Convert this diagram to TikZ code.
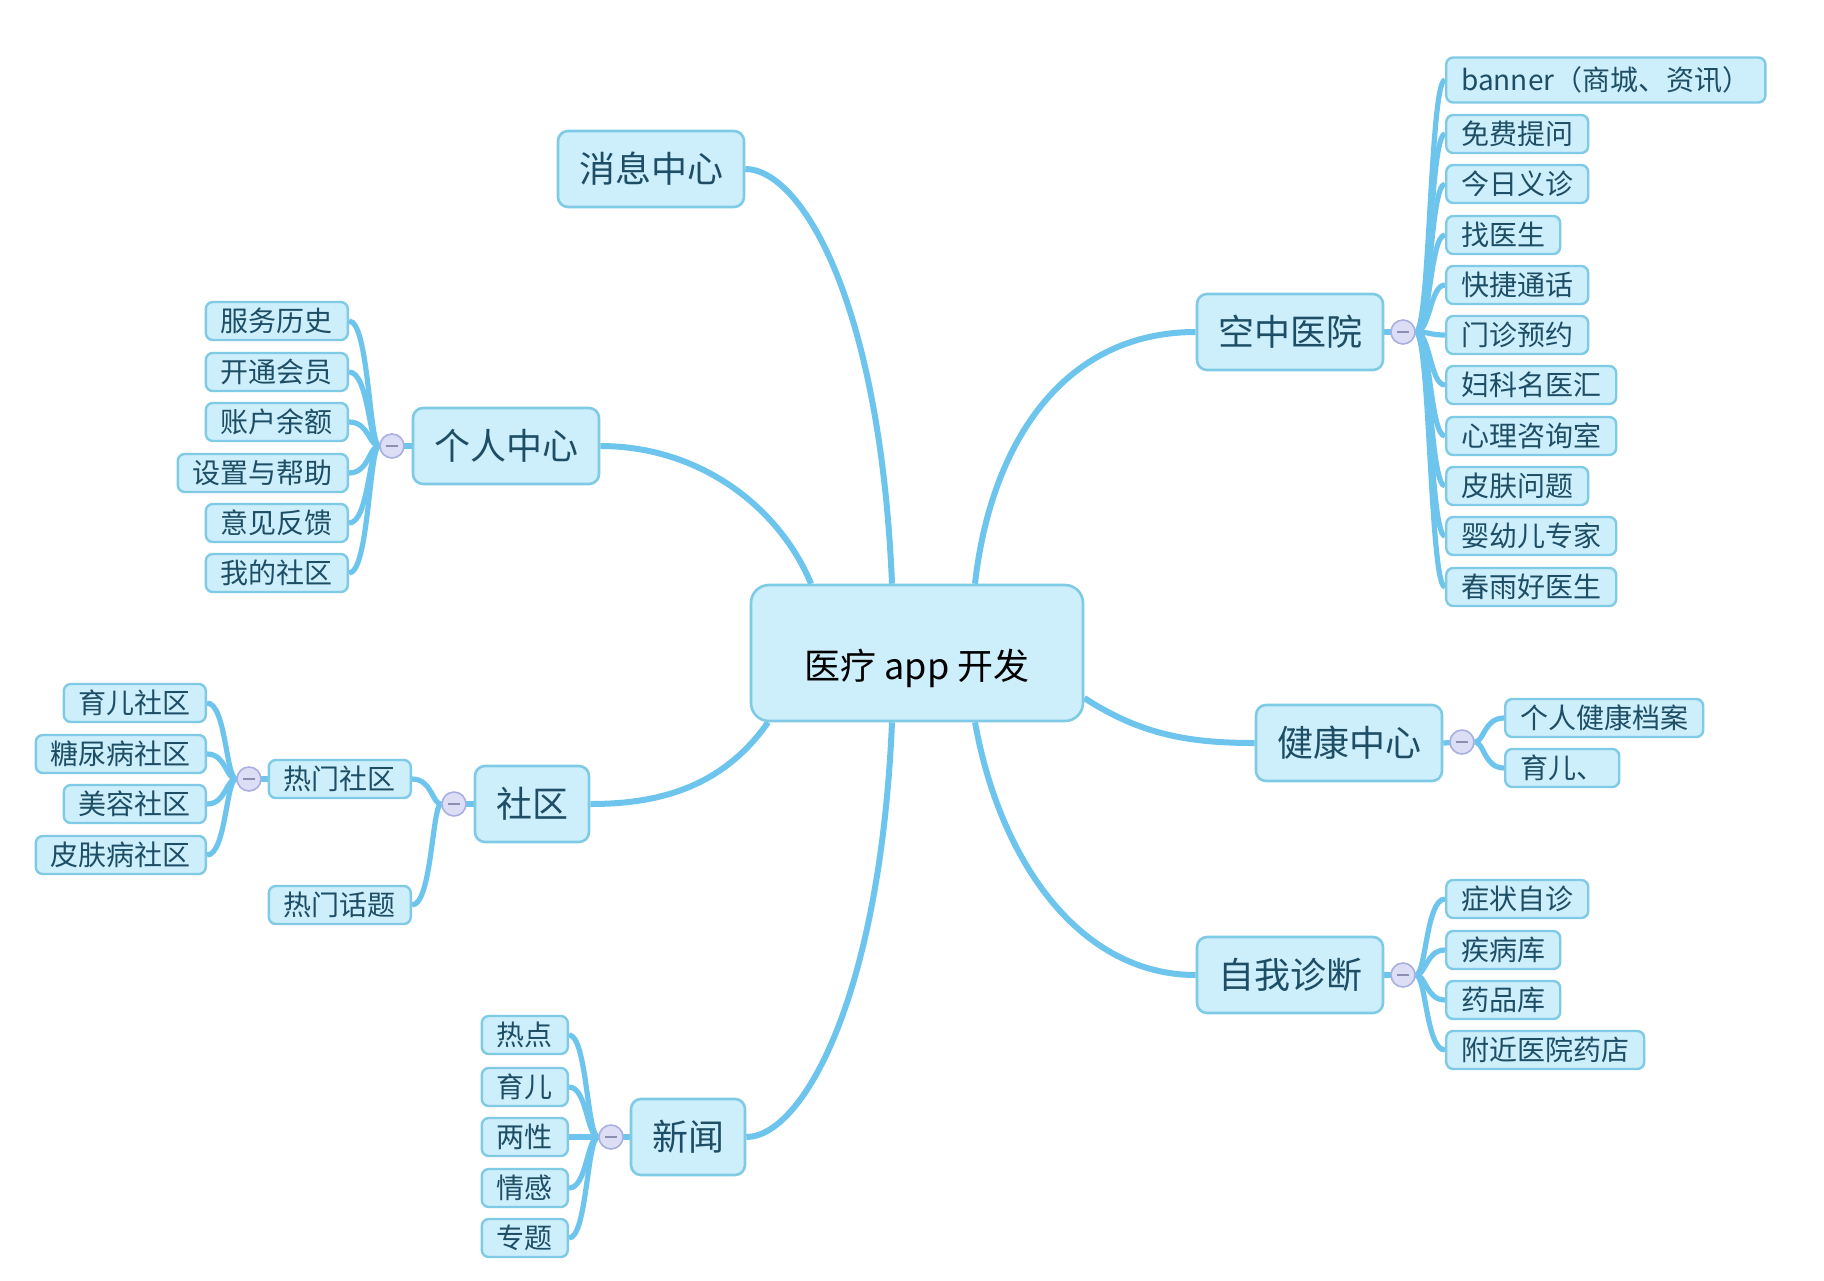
\documentclass[tikz,border=0pt]{standalone}
\usepackage{fontspec}
\newfontfamily\cjk{Noto Sans CJK SC}
\usetikzlibrary{calc}
\pgfdeclarelayer{back}
\pgfdeclarelayer{bg}
\pgfsetlayers{back,bg,main}
\definecolor{nodefill}{HTML}{CDEEFB}
\definecolor{nodeborder}{HTML}{7FCBE5}
\definecolor{nodetext}{HTML}{1D4E66}
\definecolor{linkcol}{HTML}{6DC5EE}
\definecolor{foldfill}{HTML}{DCDEF5}
\definecolor{foldborder}{HTML}{A9B0E0}
\definecolor{minuscol}{HTML}{8C90B0}
\tikzset{
  rootbox/.style={draw=nodeborder, fill=nodefill, line width=1.3pt, rounded corners=9pt,
    minimum width=166pt, minimum height=68pt, font=\cjk\fontsize{18}{20}\selectfont, text=black,
    text height=28pt, text depth=2pt},
  mainbox/.style={draw=nodeborder, fill=nodefill, line width=1.3pt, rounded corners=5pt,
    inner xsep=10.5pt, minimum height=38pt, font=\cjk\fontsize{18}{20}\selectfont, text=nodetext},
  leafbox/.style={draw=nodeborder, fill=nodefill, line width=1.2pt, rounded corners=3.5pt,
    inner xsep=7.5pt, inner ysep=0pt, minimum height=19pt, font=\cjk\fontsize{14}{16}\selectfont, text=nodetext},
  foldmark/.style={circle, draw=foldborder, fill=foldfill, line width=0.8pt, minimum size=12pt, inner sep=0pt,
    path picture={\draw[minuscol, line width=1pt] ([xshift=-3pt]path picture bounding box.center) -- ([xshift=3pt]path picture bounding box.center);}},
  mainlink/.style={draw=linkcol, line width=3pt},
  sublink/.style={draw=linkcol, line width=2.6pt},
}
\begin{document}
\begin{tikzpicture}[x=0.5pt, y=-0.5pt]
\begin{pgfonlayer}{back}
\useasboundingbox[fill=white] (0,0) rectangle (1824,1280);
\end{pgfonlayer}

% root
\node[rootbox] (root) at (917,653) {医疗 app 开发};

% main topics
\node[mainbox] (msg) at (651,169) {消息中心};
\node[mainbox] (kz)  at (1290,332) {空中医院};
\node[mainbox] (gr)  at (506,446) {个人中心};
\node[mainbox] (jk)  at (1349,743) {健康中心};
\node[mainbox] (sq)  at (532,804) {社区};
\node[mainbox] (zw)  at (1290,975) {自我诊断};
\node[mainbox] (xw)  at (688,1137) {新闻};

% fold marks
\node[foldmark] (fkz) at (1403,332) {};
\node[foldmark] (fgr) at (392,446) {};
\node[foldmark] (fjk) at (1462,742) {};
\node[foldmark] (fsq) at (454,804) {};
\node[foldmark] (frm) at (249,779) {};
\node[foldmark] (fzw) at (1403,975) {};
\node[foldmark] (fxw) at (611,1137) {};

% bundle guide coordinates (where the branch lines run vertically)
\coordinate (vkz) at (1430,332);
\coordinate (vgr) at (369,446);
\coordinate (vjk) at (1484,742);
\coordinate (vsq) at (432,804);
\coordinate (vrm) at (226,779);
\coordinate (vzw) at (1426,975);
\coordinate (vxw) at (587,1137);

% 空中医院 leaves
\node[leafbox, anchor=west, minimum height=22.5pt] (k1) at (1445,80) {banner（商城、资讯）};
\node[leafbox, anchor=west] (k2)  at (1445,134) {免费提问};
\node[leafbox, anchor=west] (k3)  at (1445,184) {今日义诊};
\node[leafbox, anchor=west] (k4)  at (1445,235) {找医生};
\node[leafbox, anchor=west] (k5)  at (1445,285) {快捷通话};
\node[leafbox, anchor=west] (k6)  at (1445,335) {门诊预约};
\node[leafbox, anchor=west] (k7)  at (1445,385) {妇科名医汇};
\node[leafbox, anchor=west] (k8)  at (1445,436) {心理咨询室};
\node[leafbox, anchor=west] (k9)  at (1445,486) {皮肤问题};
\node[leafbox, anchor=west] (k10) at (1445,536) {婴幼儿专家};
\node[leafbox, anchor=west] (k11) at (1445,587) {春雨好医生};

% 个人中心 leaves
\node[leafbox, anchor=east] (g1) at (349,321) {服务历史};
\node[leafbox, anchor=east] (g2) at (349,372) {开通会员};
\node[leafbox, anchor=east] (g3) at (349,422) {账户余额};
\node[leafbox, anchor=east] (g4) at (349,473) {设置与帮助};
\node[leafbox, anchor=east] (g5) at (349,523) {意见反馈};
\node[leafbox, anchor=east] (g6) at (349,573) {我的社区};

% 健康中心 leaves
\node[leafbox, anchor=west] (j1) at (1504,718) {个人健康档案};
\node[leafbox, anchor=west] (j2) at (1504,768) {育儿、};

% 社区 leaves
\node[leafbox, anchor=east] (s1) at (412,779) {热门社区};
\node[leafbox, anchor=east] (s2) at (412,905) {热门话题};
\node[leafbox, anchor=east] (r1) at (207,703) {育儿社区};
\node[leafbox, anchor=east] (r2) at (207,754) {糖尿病社区};
\node[leafbox, anchor=east] (r3) at (207,804) {美容社区};
\node[leafbox, anchor=east] (r4) at (207,855) {皮肤病社区};

% 自我诊断 leaves
\node[leafbox, anchor=west] (z1) at (1445,899) {症状自诊};
\node[leafbox, anchor=west] (z2) at (1445,950) {疾病库};
\node[leafbox, anchor=west] (z3) at (1445,1000) {药品库};
\node[leafbox, anchor=west] (z4) at (1445,1050) {附近医院药店};

% 新闻 leaves
\node[leafbox, anchor=east] (x1) at (569,1035) {热点};
\node[leafbox, anchor=east] (x2) at (569,1087) {育儿};
\node[leafbox, anchor=east] (x3) at (569,1137) {两性};
\node[leafbox, anchor=east] (x4) at (569,1188) {情感};
\node[leafbox, anchor=east] (x5) at (569,1238) {专题};

\begin{pgfonlayer}{bg}
% root to main topics
\draw[mainlink] ($(root.north)+(-25,0)$) .. controls +(-12,-285) and +(55,0) .. (msg.east);
\draw[mainlink] ($(root.north)+(58,0)$) .. controls +(15,-135) and +(-136,0) .. (kz.west);
\draw[mainlink] ($(root.north)+(-106,0)$) .. controls +(-31,-75) and +(101,0) .. (gr.east);
\draw[mainlink] ($(root.east)+(0,45)$) .. controls +(57,37) and +(-65,0) .. (jk.west);
\draw[mainlink] ($(root.south)+(-149,0)$) .. controls +(-48,69) and +(61,0) .. (sq.east);
\draw[mainlink] ($(root.south)+(58,0)$) .. controls +(25,139) and +(-116,0) .. (zw.west);
\draw[mainlink] ($(root.south)+(-25,0)$) .. controls +(-12,279) and +(55,0) .. (xw.east);

% topic to fold marks
\draw[sublink] (kz.east) -- (fkz.center);
\draw[sublink] (gr.west) -- (fgr.center);
\draw[sublink] (jk.east) -- (fjk.center);
\draw[sublink] (sq.west) -- (fsq.center);
\draw[sublink] (s1.west) -- (frm.center);
\draw[sublink] (zw.east) -- (fzw.center);
\draw[sublink] (xw.west) -- (fxw.center);

% fold marks to leaves
\foreach \k in {k1,k2,k3,k4,k5,k6,k7,k8,k9,k10,k11}
  \draw[sublink] (fkz.east) .. controls (vkz) and (vkz |- \k.west) .. (\k.west);
\foreach \k in {g1,g2,g3,g4,g5,g6}
  \draw[sublink] (fgr.west) .. controls (vgr) and (vgr |- \k.east) .. (\k.east);
\foreach \k in {j1,j2}
  \draw[sublink] (fjk.east) .. controls (vjk) and (vjk |- \k.west) .. (\k.west);
\foreach \k in {s1,s2}
  \draw[sublink] (fsq.west) .. controls (vsq) and (vsq |- \k.east) .. (\k.east);
\foreach \k in {r1,r2,r3,r4}
  \draw[sublink] (frm.west) .. controls (vrm) and (vrm |- \k.east) .. (\k.east);
\foreach \k in {z1,z2,z3,z4}
  \draw[sublink] (fzw.east) .. controls (vzw) and (vzw |- \k.west) .. (\k.west);
\foreach \k in {x1,x2,x3,x4,x5}
  \draw[sublink] (fxw.west) .. controls (vxw) and (vxw |- \k.east) .. (\k.east);
\end{pgfonlayer}
\end{tikzpicture}
\end{document}
